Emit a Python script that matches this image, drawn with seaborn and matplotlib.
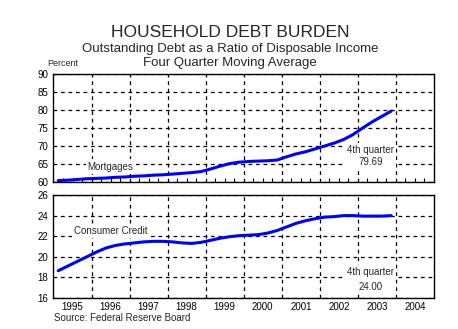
import numpy as np
import pandas as pd
import matplotlib
matplotlib.use("Agg")
import matplotlib.pyplot as plt
import seaborn as sns

# Quarterly series, 1995Q1 - 2003Q4 (four-quarter moving averages, % of disposable income)
years = list(range(1995, 2004))
quarters = [1, 2, 3, 4]
mortgages = [60.4, 60.5, 60.7, 60.9, 61.0, 61.1, 61.3, 61.4, 61.6, 61.7, 61.9, 62.0,
             62.2, 62.4, 62.6, 62.9, 63.6, 64.4, 65.1, 65.5, 65.7, 65.8, 65.9, 66.1,
             67.0, 67.8, 68.4, 69.2, 70.0, 70.8, 71.8, 73.2, 75.0, 76.7, 78.2, 79.69]
consumer_credit = [18.65, 19.1, 19.55, 20.0, 20.45, 20.85, 21.1, 21.25, 21.35, 21.45, 21.5, 21.5,
                   21.45, 21.35, 21.3, 21.4, 21.6, 21.8, 21.95, 22.05, 22.1, 22.15, 22.3, 22.55,
                   22.9, 23.25, 23.5, 23.7, 23.85, 23.9, 24.0, 24.0, 23.95, 23.95, 23.95, 24.00]
axis_years = list(range(1995, 2005))
mort_ticks = [60, 65, 70, 75, 80, 85, 90]
cc_ticks = [16, 18, 20, 22, 24, 26]

rows = [(y, q) for y in years for q in quarters]
df = pd.DataFrame(rows, columns=["year", "quarter"])
df["t"] = df["year"] + (df["quarter"] - 0.5) / 4
df["mortgages"] = mortgages
df["consumer_credit"] = consumer_credit

sns.set_theme(style="white")
plt.rcParams["font.family"] = ["Liberation Sans", "DejaVu Sans"]

fig = plt.figure(figsize=(4.58, 3.29), dpi=100)
ax1 = fig.add_axes([0.1168, 0.4468, 0.8308, 0.3283])
ax2 = fig.add_axes([0.1168, 0.0942, 0.8308, 0.3131])

line_kw = dict(color="#0000ff", linewidth=2.2)
sns.lineplot(data=df, x="t", y="mortgages", ax=ax1, **line_kw)
sns.lineplot(data=df, x="t", y="consumer_credit", ax=ax2, **line_kw)

grid_kw = dict(color="black", linewidth=0.9, linestyle=(0, (3, 3)))
for ax, ticks in ((ax1, mort_ticks), (ax2, cc_ticks)):
    ax.set_xlim(axis_years[0], axis_years[-1] + 1)
    ax.set_ylim(ticks[0], ticks[-1])
    ax.set_yticks(ticks)
    ax.set_xticks(axis_years[1:])
    ax.grid(True, which="major", **grid_kw)
    ax.set_xlabel("")
    ax.set_ylabel("")
    for s in ax.spines.values():
        s.set_color("black")
        s.set_linewidth(1.0)
    ax.tick_params(axis="y", which="major", length=0, labelsize=7, pad=4, colors="black")
    ax.tick_params(axis="x", which="major", length=0, labelbottom=False)
    ax.set_axisbelow(True)

# Quarterly ticks along the upper panel's floor
ax1.set_xticks([y + q / 4 for y in axis_years for q in (1, 2, 3)], minor=True)
ax1.tick_params(axis="x", which="minor", direction="in", length=3, width=0.8,
                bottom=True, labelbottom=False, color="black")

# Year labels centred within each year on the lower panel
ax2.set_xticks([y + 0.5 for y in axis_years], minor=True)
ax2.set_xticklabels([str(y) for y in axis_years], minor=True)
ax2.tick_params(axis="x", which="minor", length=0, labelsize=7, pad=3, colors="black")

box = dict(facecolor="white", edgecolor="none", pad=1.5)

# Series labels
ax1.text(1996.5, 64.3, "Mortgages", fontsize=7, ha="center", va="center", bbox=box)
ax2.text(1996.5, 22.5, "Consumer Credit", fontsize=7, ha="center", va="center", bbox=box)

# Latest-quarter callouts
ax1.text(2003.33, 67.3, "4th quarter\n%.2f" % mortgages[-1], fontsize=7,
         ha="center", va="center", linespacing=1.25, bbox=box)
ax2.text(2003.33, 17.8, "4th quarter\n%.2f" % consumer_credit[-1], fontsize=7,
         ha="center", va="center", linespacing=1.6, bbox=box)

fig.text(0.503, 0.902, "HOUSEHOLD DEBT BURDEN", fontsize=12.5, ha="center", va="center")
fig.text(0.503, 0.851, "Outstanding Debt as a Ratio of Disposable Income", fontsize=9.5,
         ha="center", va="center")
fig.text(0.503, 0.808, "Four Quarter Moving Average", fontsize=9.5, ha="center", va="center")
fig.text(0.138, 0.808, "Percent", fontsize=6.5, ha="center", va="center")
fig.text(0.117, 0.033, "Source: Federal Reserve Board", fontsize=7, ha="left", va="center")

fig.savefig("out.png", dpi=100, facecolor="white")
